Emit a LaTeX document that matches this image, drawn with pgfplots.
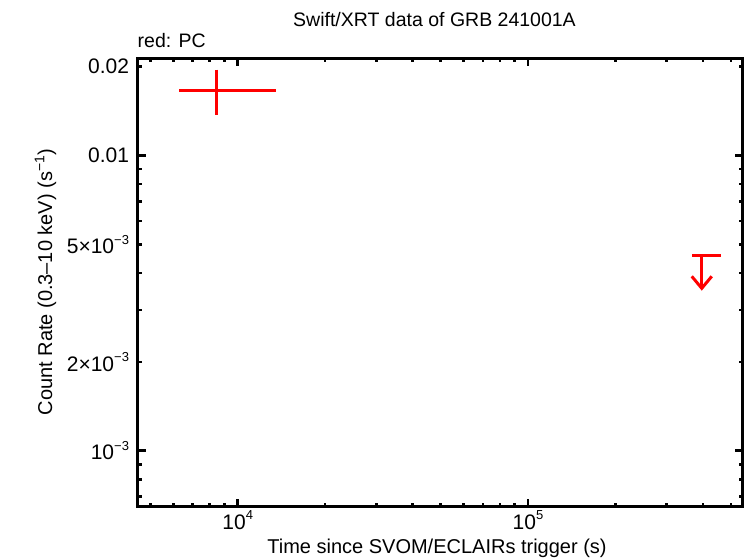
\documentclass[border=0pt]{standalone}
\usepackage{pgfplots}
\pgfplotsset{compat=1.18}
\usepackage{fontspec}
\setmainfont{Liberation Sans}
\usetikzlibrary{arrows.meta}
\newcommand{\tickfont}{\fontsize{21}{23}\selectfont}
\newcommand{\tsup}[1]{\raisebox{0.45em}{\fontsize{13}{14}\selectfont #1}}
\begin{document}
\begin{tikzpicture}[x=1pt,y=1pt]
\begin{axis}[
  at={(137.5pt,51.5pt)}, anchor=south west,
  scale only axis, width=605.2pt, height=448.2pt,
  xmode=log, ymode=log,
  /pgf/number format/assume math mode=true,
  xmin=4517, xmax=549000, ymin=6.47e-4, ymax=0.02136,
  axis line style={line width=2.8pt},
  every tick/.style={black, line width=2.6pt},
  tick align=inside,
  major tick length=8pt, minor tick length=4pt,
  xtick={1e4,1e5},
  xticklabels={10\tsup{4},10\tsup{5}},
  minor xtick={5000,6000,7000,8000,9000,20000,30000,40000,50000,60000,70000,80000,90000,200000,300000,400000,500000},
  ytick={1e-3,1e-2},
  yticklabels={10\tsup{−3},0.01},
  extra y ticks={2e-3,5e-3,0.02},
  extra y tick labels={2×10\tsup{−3},5×10\tsup{−3},0.02},
  extra y tick style={major tick length=4pt},
  minor ytick={7e-4,8e-4,9e-4,3e-3,4e-3,6e-3,7e-3,8e-3,9e-3},
  xticklabel style={font=\tickfont, yshift=-1pt},
  yticklabel style={font=\tickfont, xshift=-5pt},
  clip=false,
]
\addplot[red, line width=3pt, no markers] coordinates {(6285,0.01656) (13502,0.01656)};
\addplot[red, line width=3pt, no markers] coordinates {(8482,0.01956) (8482,0.01369)};
\addplot[red, line width=3pt, no markers] coordinates {(368500,4.58e-3) (462800,4.58e-3)};
\addplot[red, line width=3pt, no markers, -{Straight Barb[length=12pt,width=20pt]}] coordinates {(396800,4.58e-3) (396800,3.486e-3)};
\end{axis}
\node[anchor=base, font=\fontsize{19.5}{22}\selectfont] at (434.5,531) {Swift/XRT data of GRB 241001A};
\node[anchor=base west, inner sep=0pt, font=\fontsize{19.5}{22}\selectfont] at (137.5,510) {red: PC};
\node[anchor=base, font=\fontsize{20}{22}\selectfont] at (437,5) {Time since SVOM/ECLAIRs trigger (s)};
\node[anchor=base, rotate=90, font=\fontsize{20}{22}\selectfont] at (52,276) {Count Rate (0.3–10 keV) (s\textsuperscript{−1})};
\pgfresetboundingbox
\path (0,0) rectangle (746,558);
\end{tikzpicture}
\end{document}
